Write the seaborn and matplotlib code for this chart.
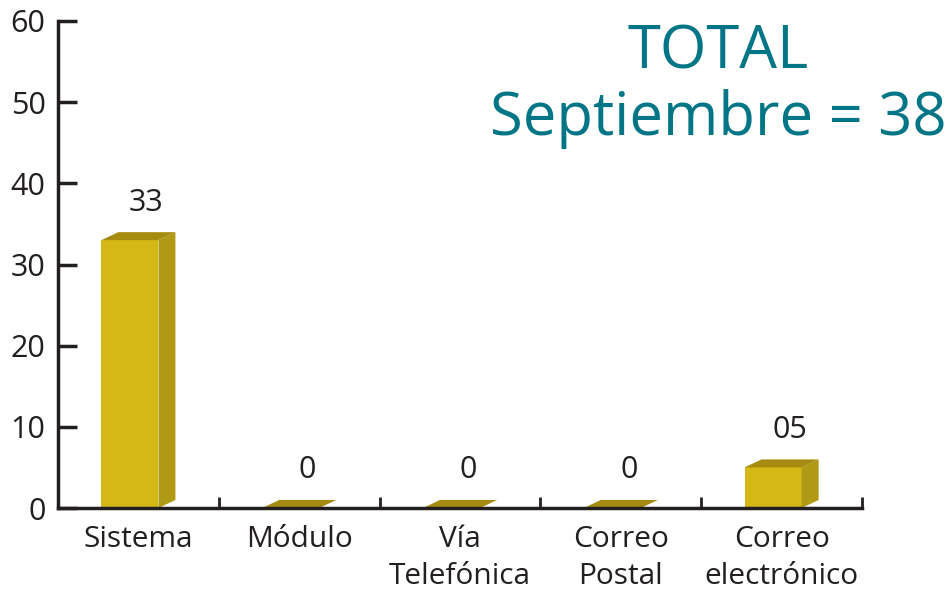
import numpy as np
import pandas as pd
import matplotlib
matplotlib.use("Agg")
import matplotlib.pyplot as plt
import seaborn as sns
from matplotlib.patches import Polygon
from matplotlib.ticker import FixedLocator

# datos del gráfico
categorias = ["Sistema", "Módulo", "Vía\nTelefónica", "Correo\nPostal", "Correo\nelectrónico"]
valores = [33, 0, 0, 0, 5]
etiquetas = ["33", "0", "0", "0", "05"]
titulo = "TOTAL\nSeptiembre = 38"

sns.set_style("white")
plt.rcParams["font.family"] = ["Open Sans", "DejaVu Sans"]

COL_FRENTE = "#D4B816"
COL_LADO = "#B09914"
COL_TAPA = "#A58C10"
COL_EJE = "#231F20"
COL_TITULO = "#007585"

df = pd.DataFrame({"canal": categorias, "cantidad": valores})

fig = plt.figure(figsize=(9.49, 5.90), dpi=100)
ax = fig.add_axes([58 / 949, 1 - 508 / 590, (862 - 58) / 949, (508 - 21) / 590])

sns.barplot(data=df, x="canal", y="cantidad", color=COL_FRENTE, width=0.355,
            saturation=1, ax=ax, zorder=3)

ax.set_xlim(-0.5, 4.5)
ax.set_ylim(0, 60)

# profundidad 3D en unidades de datos
dx = 17 / 161
dy = 8 / 8.117

for p in ax.patches:
    p.set_x(p.get_x() - dx / 2)
    p.set_edgecolor("none")
    x0 = p.get_x()
    w = p.get_width()
    h = p.get_height()
    lado = Polygon([(x0 + w, 0), (x0 + w + dx, dy), (x0 + w + dx, h + dy), (x0 + w, h)],
                   closed=True, facecolor=COL_LADO, edgecolor="none", zorder=3)
    tapa = Polygon([(x0, h), (x0 + w, h), (x0 + w + dx, h + dy), (x0 + dx, h + dy)],
                   closed=True, facecolor=COL_TAPA, edgecolor="none", zorder=3)
    ax.add_patch(lado)
    ax.add_patch(tapa)

for i, (v, txt) in enumerate(zip(valores, etiquetas)):
    ax.annotate(txt, (i + 0.05, v), xytext=(0, 27), textcoords="offset points",
                ha="center", va="center", fontsize=22, color=COL_EJE)

# ejes
sns.despine(ax=ax)
for s in ["left", "bottom"]:
    ax.spines[s].set_linewidth(2.5)
    ax.spines[s].set_color(COL_EJE)
    ax.spines[s].set_zorder(5)

ax.set_yticks(np.arange(0, 61, 10))
ax.tick_params(axis="y", left=True, direction="in", length=14, width=2.5, color=COL_EJE,
               labelsize=22, labelcolor=COL_EJE, pad=9)

ax.xaxis.set_minor_locator(FixedLocator(np.arange(0.5, 4.6, 1)))
ax.tick_params(axis="x", which="major", bottom=False, length=0, labelsize=21.5,
               labelcolor=COL_EJE, pad=12)
ax.tick_params(axis="x", which="minor", bottom=True, direction="in", length=8, width=2,
               color=COL_EJE)
for lbl in ax.get_xticklabels():
    lbl.set_linespacing(1.4)
    lbl.set_verticalalignment("top")

ax.set_xlabel("")
ax.set_ylabel("")

fig.text(718 / 949, 1 - 86 / 590, titulo, ha="center", va="center", fontsize=43,
         color=COL_TITULO, linespacing=1.15)

fig.savefig("out.png", dpi=100)
